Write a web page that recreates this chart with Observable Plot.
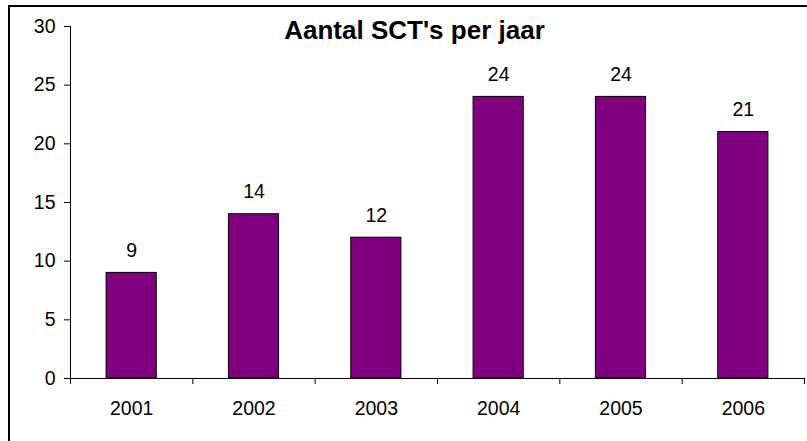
<!DOCTYPE html>
<html>
<head>
<meta charset="utf-8">
<script src="https://cdn.jsdelivr.net/npm/d3@7"></script>
<script src="https://cdn.jsdelivr.net/npm/@observablehq/plot@0.6"></script>
<style>
  html, body { margin: 0; padding: 0; background: #fff; overflow: hidden; }
  #wrap { position: relative; width: 807px; height: 441px; }
  #border { position: absolute; left: 8px; top: 5px; width: 820px; height: 460px;
            border-left: 2px solid #000; border-top: 2px solid #000; box-sizing: border-box; }
  svg { font-family: "Liberation Sans", Arial, sans-serif; }
</style>
</head>
<body>
<div id="wrap"><div id="border"></div></div>
<script>
const years = [2001, 2002, 2003, 2004, 2005, 2006];
const counts = [9, 14, 12, 24, 24, 21];
const yTicks = [0, 5, 10, 15, 20, 25, 30];
const title = "Aantal SCT's per jaar";

const data = years.map((y, i) => ({year: y, count: counts[i]}));
const bounds = [years[0] - 0.5, ...years.map(y => y + 0.5)];

const chart = Plot.plot({
  width: 807,
  height: 441,
  marginLeft: 70,
  marginRight: 3,
  marginTop: 26,
  marginBottom: 63,
  style: {fontFamily: "'Liberation Sans', Arial, sans-serif", fontSize: "19.5px", color: "#000", background: "transparent"},
  x: {domain: [bounds[0], bounds[bounds.length - 1]], axis: null, label: null},
  y: {domain: [0, 30], axis: null, label: null},
  marks: [
    Plot.rectY(data, {x1: d => d.year - 0.205, x2: d => d.year + 0.205, y: "count",
      fill: "#800080", stroke: "#000", strokeWidth: 1}),
    Plot.ruleY([0], {stroke: "#000", strokeWidth: 1}),
    Plot.ruleX([bounds[0]], {y1: 0, y2: 30, stroke: "#000", strokeWidth: 1}),
    Plot.axisY({ticks: yTicks, tickSize: 6, tickPadding: 9, label: null, tickFormat: d => String(d), fontSize: 19.5, stroke: "#000"}),
    Plot.axisX({ticks: bounds, tickSize: 6, label: null, tickFormat: () => "", stroke: "#000"}),
    Plot.axisX({ticks: years, tickSize: 0, tickPadding: 23, label: null, tickFormat: d => String(d), fontSize: 19.5}),
    Plot.text(data, {x: "year", y: "count", text: d => String(d.count), dy: -22, fontSize: 19.5, fill: "#000"}),
    Plot.text([title], {frameAnchor: "top", dx: -23, dy: -6, fontSize: 26, fontWeight: "bold", fill: "#000"})
  ]
});
chart.style.position = "absolute";
chart.style.left = "0px";
chart.style.top = "0px";
document.getElementById("wrap").appendChild(chart);
</script>
</body>
</html>
